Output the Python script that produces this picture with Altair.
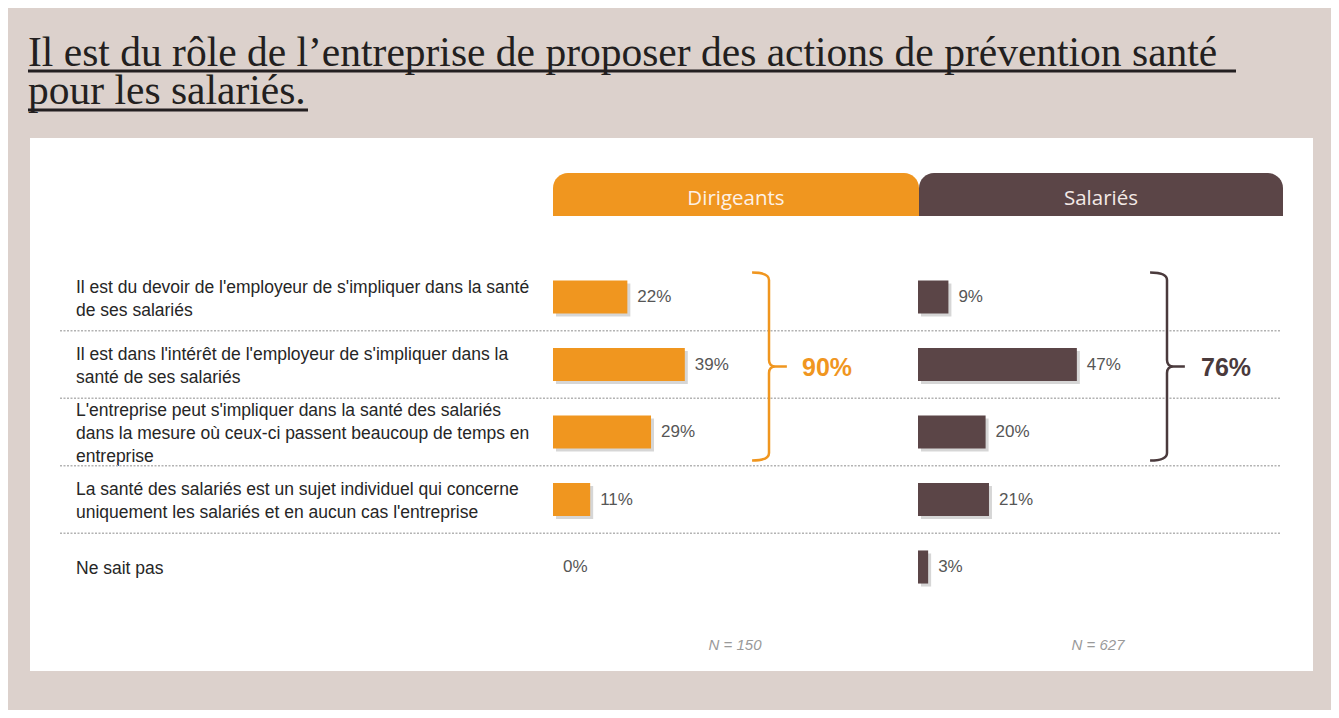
import altair as alt
import pandas as pd

# ---------------- data ----------------
title_lines = [
    "Il est du rôle de l’entreprise de proposer des actions de prévention santé ",
    "pour les salariés.",
]
groups = ["Dirigeants", "Salariés"]
categories = [
    "Il est du devoir de l'employeur de s'impliquer dans la santé\nde ses salariés",
    "Il est dans l'intérêt de l'employeur de s'impliquer dans la\nsanté de ses salariés",
    "L'entreprise peut s'impliquer dans la santé des salariés\ndans la mesure où ceux-ci passent beaucoup de temps en\nentreprise",
    "La santé des salariés est un sujet individuel qui concerne\nuniquement les salariés et en aucun cas l'entreprise",
    "Ne sait pas",
]
dirigeants = [22, 39, 29, 11, 0]
salaries = [9, 47, 20, 21, 3]
totals = [90, 76]          # regrouped share of the first three answers
sample_sizes = ["N = 150", "N = 627"]

# ---------------- style ----------------
BG = "#dcd1cc"
ORANGE = "#f0961f"
BROWN = "#5b4547"
BROWN_DARK = "#4a3a3c"
W, H = 1323, 702
ROW_PX = 67.5
LABEL_LH = 23

ys = alt.Scale(domain=[0, 4], range=[289, 559], nice=False, zero=False)

BRACE = ("M -0.18 -1 Q 0 -1 0 -0.92 L 0 -0.07 Q 0 0 0.07 0 L 0.19 0 "
         "M 0.07 0 Q 0 0 0 0.07 L 0 0.92 Q 0 1 -0.18 1")

one = pd.DataFrame({"k": [0]})

layers = []

# white panel
layers.append(
    alt.Chart(one).mark_rect(color="white").encode(
        x=alt.value(22), x2=alt.value(1305), y=alt.value(130), y2=alt.value(663)
    )
)

# title (two lines, one text item each) + underlines
title_df = pd.DataFrame({"t": title_lines, "i": [0, 1]})
for i, ty in enumerate([58, 96]):
    layers.append(
        alt.Chart(title_df).transform_filter(f"datum.i == {i}").mark_text(
            align="left", baseline="alphabetic", font="Liberation Serif", fontSize=41.5,
            color="#231f20"
        ).encode(x=alt.value(20), y=alt.value(ty), text="t:N")
    )
layers.append(
    alt.Chart(one).mark_rule(color="#231f20", strokeWidth=3).encode(
        x=alt.value(20), x2=alt.value(1228), y=alt.value(63)
    )
)
layers.append(
    alt.Chart(one).mark_rule(color="#231f20", strokeWidth=3).encode(
        x=alt.value(20), x2=alt.value(300), y=alt.value(102)
    )
)

# row labels, one text item per line, block centred on the row
line_rows = []
for i, cat in enumerate(categories):
    parts = cat.split("\n")
    n = len(parts)
    for j, p in enumerate(parts):
        line_rows.append({"pos": i + (j - (n - 1) / 2) * LABEL_LH / ROW_PX + 0.03, "line": p})
lines_df = pd.DataFrame(line_rows)
layers.append(
    alt.Chart(lines_df).mark_text(
        align="left", baseline="middle", font="Liberation Sans", fontSize=17.5,
        color="#262626"
    ).encode(
        x=alt.value(68),
        y=alt.Y("pos:Q", scale=ys, axis=None),
        text="line:N",
    )
)

# dotted separators
sep_df = pd.DataFrame({"pos": [i + 0.5 for i in range(len(categories) - 1)]})
layers.append(
    alt.Chart(sep_df).mark_rule(color="#b3b3b3", strokeWidth=1.3, strokeDash=[2, 1.5]).encode(
        x=alt.value(52), x2=alt.value(1272),
        y=alt.Y("pos:Q", scale=ys, axis=None),
    )
)

cfg = {
    "Dirigeants": dict(values=dirigeants, color=ORANGE, x0=545, tab=(545, 911),
                       brace_x=761, brace_color=ORANGE, total_x=794,
                       total_color=ORANGE, n_x=727, text_color="#fdf1e6"),
    "Salariés": dict(values=salaries, color=BROWN, x0=910, tab=(911, 1275),
                     brace_x=1159, brace_color=BROWN_DARK, total_x=1193,
                     total_color=BROWN_DARK, n_x=1090, text_color="#f3e9e6"),
}

for gi, g in enumerate(groups):
    c = cfg[g]
    xs = alt.Scale(domain=[0, 100], range=[c["x0"], c["x0"] + 338], nice=False, zero=False)
    df = pd.DataFrame({
        "row": list(range(len(categories))),
        "value": c["values"],
    })
    df["label"] = [f"{v}%" for v in df["value"]]
    base = alt.Chart(df).transform_calculate(
        start="0", top="datum.row - 0.245", bottom="datum.row + 0.245"
    )
    shadow = base.mark_rect(color="#000000", opacity=0.16, xOffset=3, x2Offset=3,
                            yOffset=3, y2Offset=3).encode(
        x=alt.X("start:Q", scale=xs, axis=None), x2="value:Q",
        y=alt.Y("top:Q", scale=ys, axis=None), y2="bottom:Q",
    )
    bars = base.mark_rect(color=c["color"]).encode(
        x=alt.X("start:Q", scale=xs, axis=None), x2="value:Q",
        y=alt.Y("top:Q", scale=ys, axis=None), y2="bottom:Q",
    )
    labels = base.mark_text(align="left", baseline="middle", dx=10, font="Liberation Sans",
                            fontSize=17, color="#565656").encode(
        x=alt.X("value:Q", scale=xs, axis=None),
        y=alt.Y("row:Q", scale=ys, axis=None),
        text="label:N",
    )
    group_layer = alt.layer(shadow, bars, labels)
    layers.append(group_layer)

    # header tab
    tab_df = pd.DataFrame({"g": [g]})
    layers.append(
        alt.Chart(tab_df).mark_rect(color=c["color"], cornerRadiusTopLeft=15,
                                    cornerRadiusTopRight=15).encode(
            x=alt.value(c["tab"][0]), x2=alt.value(c["tab"][1]),
            y=alt.value(165), y2=alt.value(208),
        )
    )
    layers.append(
        alt.Chart(tab_df).mark_text(font="Open Sans", fontSize=20.5, color=c["text_color"],
                                    baseline="middle", align="center").encode(
            x=alt.value((c["tab"][0] + c["tab"][1]) / 2), y=alt.value(191), text="g:N"
        )
    )

    # brace + total
    tot_df = pd.DataFrame({"row": [1], "t": [f"{totals[gi]}%"]})
    layers.append(
        alt.Chart(tot_df).mark_point(shape=BRACE, size=188 * 188, filled=False,
                                     strokeWidth=2.5, color=c["brace_color"], opacity=1,
                                     yOffset=2).encode(
            x=alt.value(c["brace_x"]), y=alt.Y("row:Q", scale=ys, axis=None)
        )
    )
    layers.append(
        alt.Chart(tot_df).mark_text(align="left", baseline="middle", dy=3,
                                    font="Liberation Sans", fontSize=25, fontWeight="bold",
                                    color=c["total_color"]).encode(
            x=alt.value(c["total_x"]), y=alt.Y("row:Q", scale=ys, axis=None), text="t:N"
        )
    )

    # sample size
    n_df = pd.DataFrame({"n": [sample_sizes[gi]]})
    layers.append(
        alt.Chart(n_df).mark_text(align="center", baseline="middle", font="Liberation Sans",
                                  fontSize=15, fontStyle="italic", color="#9a9a9a").encode(
            x=alt.value(c["n_x"]), y=alt.value(637), text="n:N"
        )
    )

chart = alt.layer(*layers).resolve_scale(x="independent").properties(
    width=W, height=H, padding=0, background=BG,
    autosize=alt.AutoSizeParams(type="fit", contains="padding"),
).configure_view(stroke=None)

chart.save("out.html", embed_options={"renderer": "svg", "actions": False})
